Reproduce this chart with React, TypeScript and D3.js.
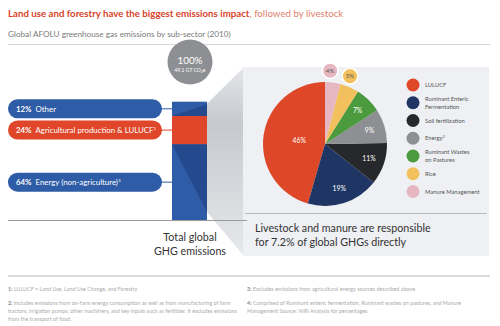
import React from "react";
import * as d3 from "d3";

const barCategories = ["Energy (non-agriculture)", "Agricultural production & LULUCF", "Other"];
const barValues = [64, 24, 12];
const barSup = ["3", "1", ""];

const pieLabels = [
  ["LULUCF"],
  ["Ruminant Enteric", "Fermentation"],
  ["Soil fertilization"],
  ["Energy"],
  ["Ruminant Wastes", "on Pastures"],
  ["Rice"],
  ["Manure Management"],
];
const pieSup = ["", "", "", "2", "", "", ""];
const pieValues = [46, 19, 11, 9, 7, 5, 4];

const footLeft = [
  ["1:", " LULUCF = Land Use, Land Use Change, and Forestry"],
  ["2:", " Includes emissions from on-farm energy consumption as well as from manufacturing of farm"],
  ["", "tractors, irrigation pumps, other machinery, and key inputs such as fertilizer. It excludes emissions"],
  ["", "from the transport of food."],
];
const footRight = [
  ["3:", " Excludes emissions from agricultural energy sources described above."],
  ["4:", " Comprised of Ruminant enteric fermentation, Ruminant wastes on pastures, and Manure"],
  ["", "Management Source: WRI Analysis for percentages"],
];
const footY = [291, 305, 313, 321];
const footYR = [291, 305, 313];

const FONT = "Lato, 'Open Sans', sans-serif";
const BLUE = "#2e5ca6";
const DARKBLUE = "#24498c";
const RED = "#e0472a";
const pieColors = ["#de4829", "#1f3564", "#27282c", "#8d8f93", "#4b9a3e", "#f2c15e", "#e6b7c0"];

export default function App() {
  const y = d3.scaleLinear().domain([0, 100]).range([220, 101.7]);
  const barX0 = 172, barX1 = 207;
  let acc = 0;
  const segs = barValues.map((v, i) => {
    const s = { y0: y(acc), y1: y(acc + v), v, i };
    acc += v;
    return s;
  });
  const segColors = [BLUE, RED, BLUE];

  const cx = 325, cy = 144, r = 62;
  const pie = d3.pie<number>().sort(null).startAngle(0).endAngle(-2 * Math.PI);
  const arcs = pie(pieValues);
  const arcGen = d3.arc<d3.PieArcDatum<number>>().innerRadius(0).outerRadius(r);
  const labelArc = d3.arc<d3.PieArcDatum<number>>().innerRadius(r * 0.52).outerRadius(r * 0.98);
  const bigLabelArc = d3.arc<d3.PieArcDatum<number>>().innerRadius(r * 0.4).outerRadius(r * 0.44);
  const bubbleArc = d3.arc<d3.PieArcDatum<number>>().innerRadius(r * 1.19).outerRadius(r * 1.19);

  const legendY = d3.scalePoint<number>().domain(pieValues.map((_, i) => i)).range([85, 191.5]);

  return (
    <svg width={500} height={326} style={{ position: "absolute", left: 0, top: 0 }} fontFamily={FONT}>
      <defs>
        <linearGradient id="wedge" x1="0" y1="0" x2="0" y2="1">
          <stop offset="0" stopColor="#e3e5e8" />
          <stop offset="0.3" stopColor="#c6c9ce" />
          <stop offset="0.55" stopColor="#d1d4d8" />
          <stop offset="1" stopColor="#e6e8eb" />
        </linearGradient>
      </defs>
      <rect width={500} height={326} fill="#ffffff" />
      <text x={8} y={17} fontSize={9.7} fill="#d7432a">
        <tspan fontWeight={700}>Land use and forestry have the biggest emissions impact</tspan>
        <tspan fill="#e0826c">, followed by livestock</tspan>
      </text>
      <text x={8} y={36.5} fontSize={8.2} fill="#7a7a7a">Global AFOLU greenhouse gas emissions by sub-sector (2010)</text>
      <line x1={8} x2={490} y1={44.5} y2={44.5} stroke="#d8d8d8" strokeWidth={1} />

      {/* wedge */}
      <polygon points={`${barX1},${y(100) + 2} 244,67 244,256 ${barX1},${y(0) - 8}`} fill="url(#wedge)" />
      <rect x={243} y={67} width={246} height={189} fill="#eef0f3" />

      {/* bar */}
      {segs.map((s) => (
        <rect key={s.i} x={barX0} y={s.y1} width={barX1 - barX0} height={s.y0 - s.y1} fill={segColors[s.i]} />
      ))}
      <polygon points={`${barX0},${segs[2].y0} ${barX1},${segs[2].y0} ${barX1},${segs[2].y1 + 2.5}`} fill={DARKBLUE} />
      <polygon points={`${barX0},${segs[0].y1} ${barX1},${segs[0].y1} ${barX1},${segs[0].y0 - 8}`} fill={DARKBLUE} />
      <line x1={8} x2={247} y1={220.5} y2={220.5} stroke="#9a9a9a" strokeWidth={1} />

      {/* pills */}
      {segs.map((s) => {
        const cyp = (s.y0 + s.y1) / 2;
        const col = segColors[s.i];
        return (
          <g key={"p" + s.i}>
            <line x1={158} x2={barX0} y1={cyp} y2={cyp} stroke={col} strokeWidth={1} />
            <rect x={8} y={cyp - 9.5} width={154} height={19} rx={9.5} fill={col} />
            <text x={16} y={cyp + 2.8} fontSize={7.85} fill="#fff">
              <tspan fontWeight={700}>{s.v}%</tspan>
              <tspan dx={4}>{barCategories[s.i]}</tspan>
              {barSup[s.i] && <tspan fontSize={4.6} dy={-3.2}>{barSup[s.i]}</tspan>}
            </text>
          </g>
        );
      })}

      {/* total circle */}
      <circle cx={190} cy={62} r={22.5} fill="#8e8f93" />
      <text x={190} y={64} textAnchor="middle" fontSize={9.8} fill="#fff">100%</text>
      <text x={190} y={72} textAnchor="middle" fontSize={5} fill="#fff">
        49.1 GT CO<tspan fontSize={3.5} dy={1}>2</tspan><tspan dy={-1}>e</tspan>
      </text>

      <text x={190} y={240.5} textAnchor="middle" fontSize={10.7} fill="#333">Total global</text>
      <text x={190} y={254.5} textAnchor="middle" fontSize={10.7} fill="#333">GHG emissions</text>

      {/* pie */}
      <g transform={`translate(${cx},${cy})`}>
        {arcs.map((a, i) => (
          <path key={i} d={arcGen(a) || ""} fill={pieColors[i]} />
        ))}
        {arcs.map((a, i) => {
          if (pieValues[i] < 6) {
            const [bx, by] = bubbleArc.centroid(a);
            return (
              <g key={"b" + i}>
                <circle cx={bx - 4} cy={by} r={7.8} fill={pieColors[i]} stroke="#fff" strokeWidth={1.5} />
                <text x={bx - 4} y={by + 2.1} textAnchor="middle" fontSize={6.2} fill="#555">{pieValues[i]}%</text>
              </g>
            );
          }
          const [lx, ly] = (i === 0 ? bigLabelArc : labelArc).centroid(a);
          return (
            <text key={"l" + i} x={lx} y={ly + 2.4} textAnchor="middle" fontSize={6.8} fill="#fff">{pieValues[i]}%</text>
          );
        })}
      </g>

      {/* legend */}
      {pieLabels.map((lines, i) => {
        const ly = legendY(i) as number;
        return (
          <g key={"lg" + i}>
            <circle cx={413} cy={ly} r={6.5} fill={pieColors[i]} />
            {lines.map((t, j) => (
              <text key={j} x={425} y={ly + 2 + (j - (lines.length - 1) / 2) * 8} fontSize={5.8} fill="#555">
                {t}
                {j === lines.length - 1 && pieSup[i] && <tspan fontSize={3.8} dy={-2.2}>{pieSup[i]}</tspan>}
              </text>
            ))}
          </g>
        );
      })}

      <line x1={245} x2={487} y1={213.5} y2={213.5} stroke="#a9acb0" strokeWidth={0.8} />
      <text x={255} y={231.5} fontSize={10.7} fill="#333">Livestock and manure are responsible</text>
      <text x={255} y={246} fontSize={10.7} fill="#333">for 7.2% of global GHGs directly</text>

      <line x1={8} x2={490} y1={276} y2={276} stroke="#cfcfcf" strokeWidth={1.5} />
      {footLeft.map((f, i) => (
        <text key={"fl" + i} x={8} y={footY[i]} fontSize={5.4} fill="#ababab">
          {f[0] && <tspan fontWeight={700} fill="#888">{f[0]}</tspan>}
          <tspan>{f[1]}</tspan>
        </text>
      ))}
      {footRight.map((f, i) => (
        <text key={"fr" + i} x={247} y={footYR[i]} fontSize={5.4} fill="#ababab">
          {f[0] && <tspan fontWeight={700} fill="#888">{f[0]}</tspan>}
          <tspan>{f[1]}</tspan>
        </text>
      ))}
    </svg>
  );
}
